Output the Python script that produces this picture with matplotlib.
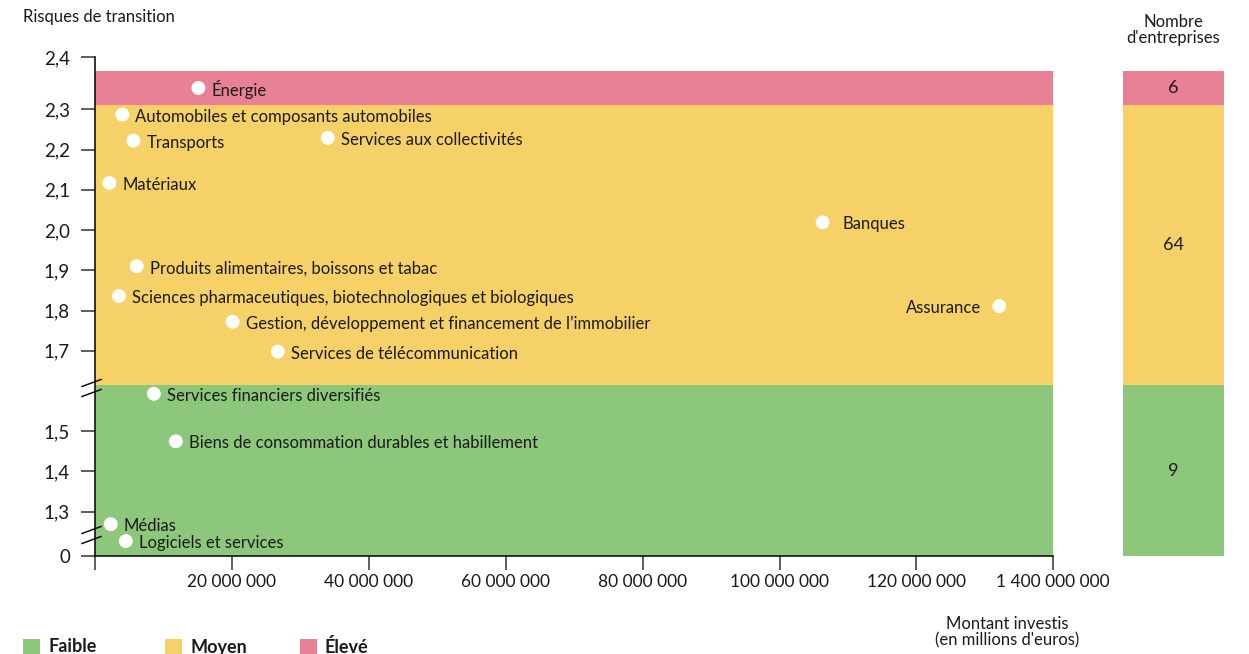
import numpy as np
import matplotlib
matplotlib.use("Agg")
import matplotlib.pyplot as plt
from matplotlib.patches import Rectangle
from matplotlib.ticker import NullLocator

plt.rcParams['font.family'] = ['Lato', 'DejaVu Sans']

# Secteurs : montant investi (euros) et score de risques de transition
sectors = [
    "Énergie",
    "Automobiles et composants automobiles",
    "Transports",
    "Services aux collectivités",
    "Matériaux",
    "Banques",
    "Produits alimentaires, boissons et tabac",
    "Sciences pharmaceutiques, biotechnologiques et biologiques",
    "Gestion, développement et financement de l\u2019immobilier",
    "Services de télécommunication",
    "Assurance",
    "Services financiers diversifiés",
    "Biens de consommation durables et habillement",
    "Médias",
    "Logiciels et services",
]
montants = [15.1e6, 4.0e6, 5.6e6, 34.0e6, 2.1e6, 106.3e6, 6.1e6, 3.5e6,
            20.1e6, 26.7e6, 132.1e6, 8.6e6, 11.8e6, 2.3e6, 4.5e6]
risques = [2.341, 2.287, 2.222, 2.229, 2.117, 2.019, 1.910, 1.836,
           1.772, 1.698, 1.811, 1.593, 1.475, 1.269, 1.227]

# Niveaux de risque
zone_names = ["Faible", "Moyen", "Élevé"]
zone_bounds = [0, 1.614, 2.309, 2.374]
zone_counts = [9, 64, 6]
zone_colors = ["#8DC77B", "#F6D168", "#E88196"]

y_ticks = [0, 1.3, 1.4, 1.5, 1.7, 1.8, 1.9, 2.0, 2.1, 2.2, 2.3, 2.4]
x_ticks = [0, 20e6, 40e6, 60e6, 80e6, 100e6, 120e6, 140e6]
x_tick_labels = ["", "20 000 000", "40 000 000", "60 000 000", "80 000 000",
                 "100 000 000", "120 000 000", "1 400 000 000"]

TEXT = "#1a1a1a"

# Axe vertical coupé : 0 -> 1,2 écrasé, puis linéaire, dernier palier plus large
SCALE_V = [0, 1.2, 2.3, 2.4]
SCALE_P = [0, 3.76, 446.4, 498.4]


def forward(v):
    return np.interp(v, SCALE_V, SCALE_P)


def inverse(p):
    return np.interp(p, SCALE_P, SCALE_V)


W, H = 1249, 654
fig = plt.figure(figsize=(W / 100, H / 100), dpi=100)

ax_h = 498.4
ax_bottom = 1 - 555.7 / H
ax = fig.add_axes([95 / W, ax_bottom, 958.3 / W, ax_h / H])
ax.set_yscale("function", functions=(forward, inverse))
ax.set_xlim(0, 140e6)
ax.set_ylim(0, 2.4)

for lo, hi, c in zip(zone_bounds[:-1], zone_bounds[1:], zone_colors):
    ax.axhspan(lo, hi, color=c, lw=0, zorder=0)

ax.scatter(montants, risques, s=100, color="white", edgecolors="none", zorder=3)

# Décalage horizontal des étiquettes (pixels)
label_shift = {"Banques": 20, "Assurance": -18}
for name, x, y in zip(sectors, montants, risques):
    dx = label_shift.get(name, 13)
    ax.annotate(name, (x, y), xytext=(dx, -2), textcoords="offset pixels",
                ha="left" if dx > 0 else "right", va="center",
                fontsize=12, color=TEXT, zorder=4)

ax.set_yticks(y_ticks)
ax.set_yticklabels(["0" if t == 0 else f"{t:.1f}".replace(".", ",") for t in y_ticks])
ax.yaxis.set_minor_locator(NullLocator())
ax.set_xticks(x_ticks)
ax.set_xticklabels(x_tick_labels)

ax.tick_params(axis="both", length=10, width=1.1, color="#333333", labelcolor=TEXT)
ax.tick_params(axis="y", pad=8, labelsize=13.5)
ax.tick_params(axis="x", pad=3, labelsize=12.5)
for side in ("top", "right"):
    ax.spines[side].set_visible(False)
for side in ("left", "bottom"):
    ax.spines[side].set_linewidth(1.2)
    ax.spines[side].set_color("#111111")

# Marques de coupure sur l'axe vertical
for b in (20.7, 167.7):
    for dy in (-5, 5):
        ax.plot([-13 / 958.3, 6 / 958.3],
                [(b + dy - 3.5) / ax_h, (b + dy + 3.5) / ax_h],
                transform=ax.transAxes, color="#111111", lw=1.1,
                clip_on=False, zorder=5)

# Barre du nombre d'entreprises par niveau
ax2 = fig.add_axes([1123 / W, ax_bottom, 101 / W, ax_h / H])
ax2.set_yscale("function", functions=(forward, inverse))
ax2.set_ylim(0, 2.4)
ax2.set_xlim(-0.5, 0.5)
for lo, hi, c, n in zip(zone_bounds[:-1], zone_bounds[1:], zone_colors, zone_counts):
    ax2.bar(0, hi - lo, bottom=lo, width=1, color=c, lw=0)
    mid = inverse((forward(lo) + forward(hi)) / 2)
    ax2.text(0, mid, str(n), ha="center", va="center", fontsize=13, color=TEXT)
ax2.axis("off")

fig.text(1173 / W, 1 - 30 / H, "Nombre\nd'entreprises", ha="center", va="center",
         fontsize=12, color=TEXT, linespacing=1.05)
fig.text(23 / W, 1 - 17 / H, "Risques de transition", ha="left", va="center",
         fontsize=12, color=TEXT)
fig.text(1007 / W, 1 - 632 / H, "Montant investis\n(en millions d'euros)",
         ha="center", va="center", fontsize=12, color=TEXT, linespacing=1.05)

# Légende
for name, c, x0 in zip(zone_names, zone_colors, (23, 165, 300)):
    fig.patches.append(Rectangle((x0 / W, -2 / H), 17 / W, 17 / H,
                                 transform=fig.transFigure, color=c, lw=0))
    fig.text((x0 + 25) / W, 1 - 647 / H, name, ha="left", va="center",
             fontsize=13, fontweight="bold", color=TEXT)

fig.savefig("out.png", dpi=100)
